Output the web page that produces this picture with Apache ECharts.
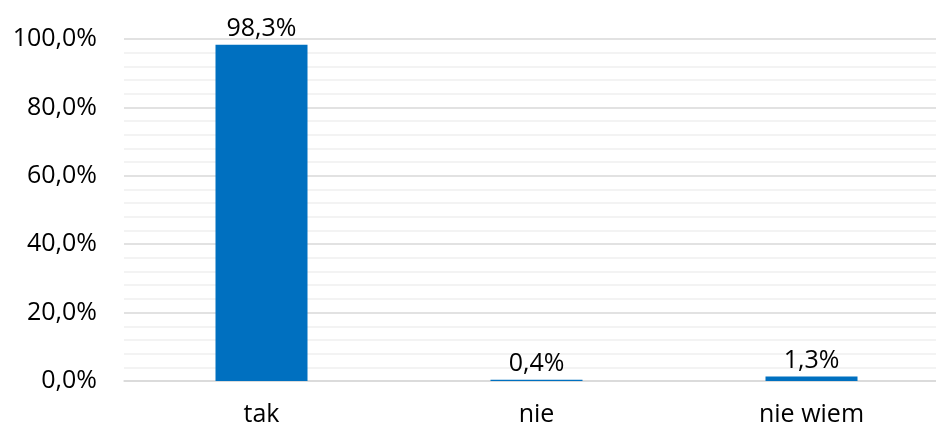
<!DOCTYPE html>
<html><head><meta charset="utf-8">
<script src="https://cdn.jsdelivr.net/npm/echarts@6/dist/echarts.min.js"></script>
<style>html,body{margin:0;padding:0;background:#fff}#c{width:936px;height:428px}</style>
</head><body><div id="c"></div>
<script>
const categories = ['tak', 'nie', 'nie wiem'];
const values = [98.3, 0.4, 1.3];
const yTicks = [0, 20, 40, 60, 80, 100];

const fmt = v => v.toFixed(1).replace('.', ',') + '%';
const chart = echarts.init(document.getElementById('c'));
chart.setOption({
  animation: false,
  grid: { left: 124, width: 825, top: 39, bottom: 47, containLabel: false, outerBoundsMode: 'none' },
  xAxis: {
    type: 'category', data: categories,
    axisLine: { lineStyle: { color: '#d9d9d9', width: 1.5 } },
    axisTick: { show: false },
    axisLabel: { color: '#000', fontFamily: 'Open Sans', fontSize: 25, margin: 21 }
  },
  yAxis: {
    type: 'value', min: yTicks[0], max: yTicks[yTicks.length - 1], interval: 20,
    axisLine: { show: false }, axisTick: { show: false },
    axisLabel: { color: '#000', fontFamily: 'Open Sans', fontSize: 25, margin: 27, formatter: v => fmt(v) },
    splitLine: { lineStyle: { color: '#d9d9d9', width: 1.5 } },
    minorTick: { show: false, splitNumber: 5 },
    minorSplitLine: { show: true, lineStyle: { color: '#f0f0f0', width: 1.5 } }
  },
  series: [{
    type: 'bar', data: values, barWidth: 92,
    itemStyle: { color: '#0070C0' },
    label: { show: true, position: 'top', distance: 3, color: '#000', fontFamily: 'Open Sans', fontSize: 25, formatter: p => fmt(p.value) }
  }]
});
</script></body></html>
